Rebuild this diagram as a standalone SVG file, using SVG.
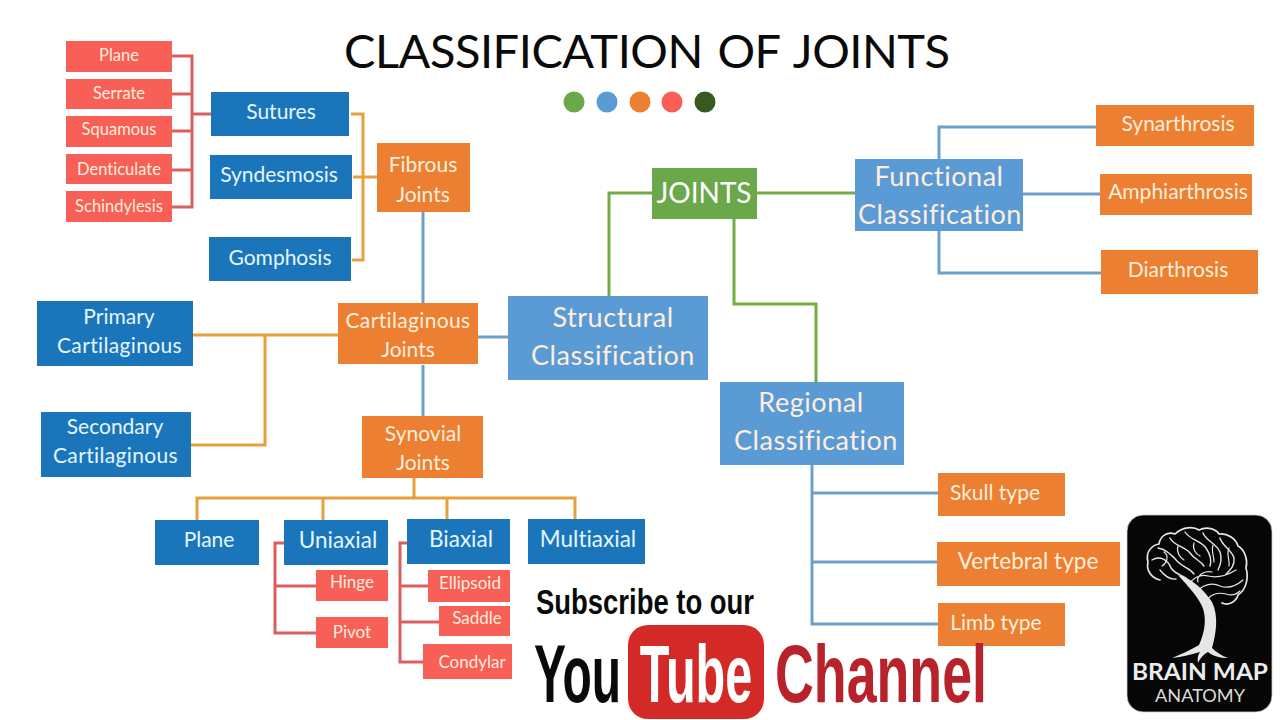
<svg xmlns="http://www.w3.org/2000/svg" width="1280" height="720" viewBox="0 0 1280 720">
<style>
text{font-family:"Lato","Open Sans","Liberation Sans",sans-serif;text-anchor:middle;font-variant-ligatures:none}
.red{fill:#f75f57}.blue{fill:#1b75bb}.or{fill:#ec7f31}.lb{fill:#5b9bd5}.gr{fill:#6aa84a}
.t{fill:#fff}.a{fill:#ffeedd}.b{fill:#e4f6ff}
.s{font-size:16.500px}.m{font-size:21px}.l{font-size:27px;letter-spacing:.55px}
.x{font-size:22.500px}.y{font-size:17px}.c{letter-spacing:.35px}
#connectors path{fill:none;stroke-width:3}
.cr{stroke:#d9605e}.co{stroke:#e5a03c}.cb{stroke:#6f9fc7}.cg{stroke:#70ad47}
.yt{font-family:"Liberation Sans",sans-serif;font-weight:700}
</style>
<rect width="1280" height="720" fill="#fff"/>
<text x="647" y="68" font-size="47" fill="#0a0a0a" textLength="606" lengthAdjust="spacing" word-spacing="3">CLASSIFICATION OF JOINTS</text>
<g id="dots"><circle cx="574" cy="102" r="10.500" fill="#6aa84a"/><circle cx="607" cy="102" r="10.500" fill="#5b9bd5"/><circle cx="640" cy="102" r="10.500" fill="#ec7f31"/><circle cx="672" cy="102" r="10.500" fill="#f75f57"/><circle cx="705" cy="102" r="10.500" fill="#38591f"/></g>
<g id="connectors">
<path class="cr" d="M172 56H192V207H172M172 94H192M172 131H192M172 170H192M192 114H211"/>
<path class="co" d="M351 114H363V260H352M353 177H377"/>
<path class="cb" d="M423 212V303M423 365V416M478 337H508"/>
<path class="co" d="M193 335H338M191 445H265V335"/>
<path class="co" d="M414 478V498M197 520V498H575V520M323 498V520M447 498V520"/>
<path class="cr" d="M284 543H275V633H316M275 586H316"/>
<path class="cr" d="M407 543H400V662H423M400 586H428M400 622H439"/>
<path class="cg" d="M652 193H609V296M757 193H855M734 219V304H816V382"/>
<path class="cb" d="M939 159V127H1096M1023 194H1100M939 231V273H1101"/>
<path class="cb" d="M812 465V624H938M812 493H938M812 562H937"/>
</g>
<g id="plane1"><rect class="red" x="66" y="41" width="106" height="31"/><text class="s a" x="119" y="61">Plane</text></g>
<g id="serrate"><rect class="red" x="66" y="79" width="106" height="30"/><text class="s a" x="119" y="99">Serrate</text></g>
<g id="squamous"><rect class="red" x="66" y="116" width="106" height="31"/><text class="s a" x="119" y="135">Squamous</text></g>
<g id="denticulate"><rect class="red" x="66" y="154" width="106" height="30"/><text class="s a" x="119" y="175">Denticulate</text></g>
<g id="schindylesis"><rect class="red" x="66" y="191" width="106" height="31"/><text class="s a" x="119" y="212">Schindylesis</text></g>
<g id="sutures"><rect class="blue" x="211" y="92" width="138" height="44"/><text class="m b" x="281" y="119">Sutures</text></g>
<g id="syndesmosis"><rect class="blue" x="210" y="155" width="142" height="44"/><text class="m b" x="279" y="182">Syndesmosis</text></g>
<g id="gomphosis"><rect class="blue" x="209" y="237" width="142" height="44"/><text class="m b" x="280" y="265">Gomphosis</text></g>
<g id="fibrous"><rect class="or" x="377" y="143" width="93" height="69"/><text class="m a" x="423" y="172">Fibrous</text><text class="m a" x="423" y="202">Joints</text></g>
<g id="cartilaginous"><rect class="or" x="338" y="303" width="140" height="61"/><text class="m a c" x="408" y="328">Cartilaginous</text><text class="m a" x="408" y="357">Joints</text></g>
<g id="synovial"><rect class="or" x="362" y="416" width="121" height="62"/><text class="m a" x="423" y="441">Synovial</text><text class="m a" x="423" y="470">Joints</text></g>
<g id="primary"><rect class="blue" x="37" y="301" width="156" height="65"/><text class="m b" x="119" y="324">Primary</text><text class="m b c" x="119.500" y="353">Cartilaginous</text></g>
<g id="secondary"><rect class="blue" x="41" y="412" width="150" height="65"/><text class="m b" x="115" y="434">Secondary</text><text class="m b c" x="115.500" y="463">Cartilaginous</text></g>
<g id="plane2"><rect class="blue" x="155" y="520" width="104" height="45"/><text class="m b" x="209" y="547">Plane</text></g>
<g id="uniaxial"><rect class="blue" x="284" y="520" width="104" height="45"/><text class="x b" x="338" y="548">Uniaxial</text></g>
<g id="biaxial"><rect class="blue" x="407" y="519" width="103" height="45"/><text class="x b" x="461" y="547">Biaxial</text></g>
<g id="multiaxial"><rect class="blue" x="528" y="519" width="117" height="45"/><text class="x b" x="588" y="547">Multiaxial</text></g>
<g id="hinge"><rect class="red" x="316" y="570" width="72" height="31"/><text class="y a" x="352" y="588">Hinge</text></g>
<g id="pivot"><rect class="red" x="316" y="617" width="72" height="31"/><text class="y a" x="352" y="638">Pivot</text></g>
<g id="ellipsoid"><rect class="red" x="428" y="570" width="82" height="32"/><text class="y a" x="470" y="589">Ellipsoid</text></g>
<g id="saddle"><rect class="red" x="439" y="606" width="71" height="30"/><text class="y a" x="477" y="624">Saddle</text></g>
<g id="condylar"><rect class="red" x="423" y="644" width="89" height="35"/><text class="y a" x="472" y="668">Condylar</text></g>
<g id="joints"><rect class="gr" x="652" y="168" width="105" height="51"/><text class="t" font-size="28" x="704" y="203">JOINTS</text></g>
<g id="structural"><rect class="lb" x="508" y="296" width="200" height="84"/><text class="l a" x="613" y="327">Structural</text><text class="l a" x="613" y="365">Classification</text></g>
<g id="regional"><rect class="lb" x="720" y="382" width="184" height="83"/><text class="l a" x="811" y="412">Regional</text><text class="l a" x="816" y="450">Classification</text></g>
<g id="functional"><rect class="lb" x="855" y="159" width="168" height="72"/><text class="l a" x="939" y="186">Functional</text><text class="l a" x="940" y="224">Classification</text></g>
<g id="synarthrosis"><rect class="or" x="1096" y="105" width="158" height="41"/><text class="m a" x="1178" y="131">Synarthrosis</text></g>
<g id="amphiarthrosis"><rect class="or" x="1100" y="174" width="152" height="41"/><text class="m a" x="1178" y="199">Amphiarthrosis</text></g>
<g id="diarthrosis"><rect class="or" x="1101" y="250" width="157" height="44"/><text class="m a" x="1178" y="277">Diarthrosis</text></g>
<g id="skull"><rect class="or" x="938" y="473" width="127" height="43"/><text class="m a" x="995" y="500">Skull type</text></g>
<g id="vertebral"><rect class="or" x="937" y="542" width="183" height="44"/><text class="x a" x="1028" y="569">Vertebral type</text></g>
<g id="limb"><rect class="or" x="938" y="603" width="127" height="43"/><text class="m a" x="996" y="630">Limb type</text></g>
<g id="youtube">
<text class="yt" x="645" y="614" font-size="35" fill="#0a0a0a" textLength="218" lengthAdjust="spacingAndGlyphs">Subscribe to our</text>
<text class="yt" transform="translate(577.500 702) scale(.585 1)" font-size="82" fill="#0a0a0a">You</text>
<rect x="628" y="625" width="136" height="94" rx="20" fill="#d42a27"/>
<text class="yt" transform="translate(696 702) scale(.592 1)" font-size="82" fill="#fff">Tube</text>
<text class="yt" transform="translate(881 702) scale(.655 1)" font-size="82" fill="#b8222a">Channel</text>
</g>
<g id="logo">
<rect x="1127" y="515" width="145" height="197" rx="16" fill="#060606" stroke="#cfcfcf" stroke-width=".8"/>
<g fill="none" stroke="#e6e6e6" stroke-linecap="round">
<path stroke-width="1.700" d="M1160 580C1151 578 1146 570 1148 562C1145 552 1152 545 1159 544C1160 536 1168 531 1175 534C1182 527 1193 526 1199 530C1207 526 1216 529 1219 534C1228 533 1236 539 1238 546C1245 550 1248 560 1246 568C1249 578 1246 590 1238 595C1236 602 1228 606 1222 603"/>
<path stroke-width="1.400" d="M1152 560C1160 555 1168 560 1171 568C1175 574 1180 574 1186 578M1158 548C1166 549 1172 555 1178 562C1184 568 1190 568 1194 574M1170 538C1174 546 1184 546 1190 553C1195 560 1200 560 1204 566M1185 532C1190 540 1200 540 1206 548C1210 554 1212 560 1210 566M1203 533C1206 541 1216 543 1220 552C1222 558 1221 564 1218 570M1220 538C1222 546 1232 550 1234 558C1235 566 1230 570 1226 574M1160 570C1164 575 1170 580 1176 579"/>
<path stroke-width="1.200" d="M1188 586C1192 578 1200 574 1208 576C1216 578 1226 576 1236 570M1196 594C1200 585 1212 582 1220 586C1228 589 1236 586 1243 580M1206 604C1208 594 1218 592 1226 594C1232 596 1236 595 1240 591M1198 582C1196 576 1204 570 1212 572M1164 552C1170 556 1166 564 1162 566M1178 546C1176 552 1180 558 1184 560M1194 543C1192 549 1196 554 1200 556M1213 545C1211 551 1214 556 1214 562M1229 548C1226 554 1230 560 1229 566"/>
</g>
<path d="M1178 575C1192 578 1204 590 1212 602C1219 616 1216 634 1212 648C1216 652 1222 656 1228 658C1220 658 1213 656 1208 652C1204 654 1200 658 1198 663C1197 658 1198 655 1200 652C1192 654 1182 657 1172 658C1181 654 1191 650 1199 645C1205 632 1207 618 1202 606C1196 594 1186 584 1178 575Z" fill="#e6e6e6"/>
<text x="1200" y="680" font-family="Liberation Serif" font-weight="700" font-size="22" fill="#ececec" textLength="136" lengthAdjust="spacingAndGlyphs">BRAIN MAP</text>
<text x="1200" y="702" font-size="17" fill="#dcdcdc" textLength="90" lengthAdjust="spacingAndGlyphs">ANATOMY</text>
</g>
</svg>
